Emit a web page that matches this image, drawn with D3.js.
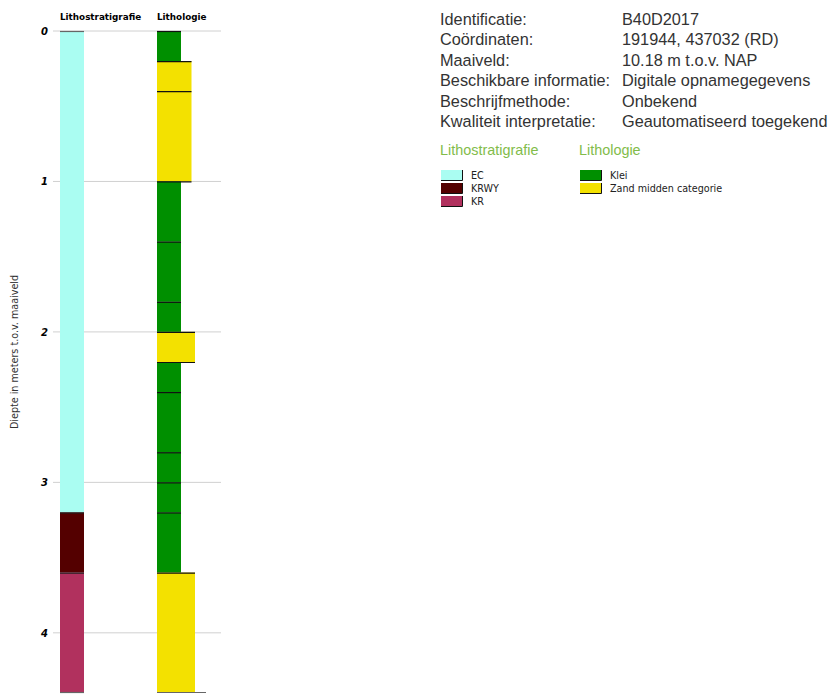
<!DOCTYPE html>
<html>
<head>
<meta charset="utf-8">
<script src="https://cdn.jsdelivr.net/npm/d3@7"></script>
<style>
  body { margin: 0; background: #fff; }
  svg { display: block; }
</style>
</head>
<body>
<script>
const width = 830;
const height = 695;

// lithostratigrafie: code, van, tot (m onder maaiveld)
const stratCodes = ['EC', 'KRWY', 'KR'];
const stratTop = [0, 3.2, 3.6];
const stratBottom = [3.2, 3.6, 4.4];
const stratColors = ['#aafdf2', '#540000', '#b1315e'];

// lithologie lagen
const lithoType = ['Klei', 'Zand', 'Zand', 'Klei', 'Klei', 'Klei', 'Zand', 'Klei', 'Klei', 'Klei', 'Klei', 'Klei', 'Zand'];
const lithoTop = [0, 0.2, 0.4, 1.0, 1.4, 1.8, 2.0, 2.2, 2.4, 2.8, 3.0, 3.2, 3.6];
const lithoBottom = [0.2, 0.4, 1.0, 1.4, 1.8, 2.0, 2.2, 2.4, 2.8, 3.0, 3.2, 3.6, 4.4];
const lithoGrain = [1, 2, 2, 1, 1, 1, 3, 1, 1, 1, 1, 1, 3]; // breedte-klasse

const depthTicks = [0, 1, 2, 3, 4];

const infoLabels = ['Identificatie:', 'Coördinaten:', 'Maaiveld:', 'Beschikbare informatie:', 'Beschrijfmethode:', 'Kwaliteit interpretatie:'];
const infoValues = ['B40D2017', '191944, 437032 (RD)', '10.18 m t.o.v. NAP', 'Digitale opnamegegevens', 'Onbekend', 'Geautomatiseerd toegekend'];

const lithoNames = ['Klei', 'Zand midden categorie'];
const lithoColors = { 'Klei': '#008f00', 'Zand': '#f3e100' };

const svg = d3.select('body').append('svg').attr('width', width).attr('height', height);

const y = d3.scaleLinear().domain([0, 4.4]).range([31, 693]);
const w = d3.scaleLinear().domain([1, 2, 3]).range([24, 34.5, 38]);

// gridlijnen
svg.append('g')
    .selectAll('line')
    .data(depthTicks)
    .enter()
    .append('line')
    .attr('x1', 53).attr('x2', 221)
    .attr('y1', d => y(d)).attr('y2', d => y(d))
    .attr('stroke', '#d0d0d0').attr('stroke-width', 1);

const yAxis = svg.append('g')
    .attr('transform', 'translate(50,0)')
    .call(d3.axisLeft(y).tickValues(depthTicks).tickSize(0).tickPadding(2).tickFormat(d3.format('d')));
yAxis.select('.domain').remove();
yAxis.selectAll('text')
    .attr('font-family', 'DejaVu Sans')
    .attr('font-size', 10)
    .attr('font-weight', 'bold')
    .attr('font-style', 'italic')
    .attr('fill', '#000');

svg.append('text')
    .attr('transform', 'translate(18,352) rotate(-90)')
    .attr('text-anchor', 'middle')
    .attr('font-family', 'DejaVu Sans')
    .attr('font-size', 9.6)
    .attr('fill', '#333')
    .text('Diepte in meters t.o.v. maaiveld');

// kolomtitels
svg.append('text').attr('x', 60).attr('y', 20)
    .attr('font-family', 'DejaVu Sans').attr('font-size', 8.8).attr('font-weight', 'bold')
    .text('Lithostratigrafie');
svg.append('text').attr('x', 157).attr('y', 20)
    .attr('font-family', 'DejaVu Sans').attr('font-size', 8.8).attr('font-weight', 'bold')
    .text('Lithologie');

// lithostratigrafie kolom
const strat = svg.append('g');
strat.selectAll('rect')
    .data(stratCodes)
    .enter()
    .append('rect')
    .attr('x', 60).attr('width', 24)
    .attr('y', (d, i) => y(stratTop[i]))
    .attr('height', (d, i) => y(stratBottom[i]) - y(stratTop[i]))
    .attr('fill', (d, i) => stratColors[i]);
strat.selectAll('line')
    .data(stratCodes)
    .enter()
    .append('line')
    .attr('x1', 60).attr('x2', 84)
    .attr('y1', (d, i) => y(stratTop[i]) + 0.5).attr('y2', (d, i) => y(stratTop[i]) + 0.5)
    .attr('stroke', (d, i) => i === 0 ? '#666' : '#222').attr('stroke-width', 1.2);
strat.append('line')
    .attr('x1', 60).attr('x2', 84)
    .attr('y1', y(4.4) - 0.5).attr('y2', y(4.4) - 0.5)
    .attr('stroke', '#666').attr('stroke-width', 1.2);

// lithologie kolom
const litho = svg.append('g');
litho.selectAll('rect')
    .data(lithoType)
    .enter()
    .append('rect')
    .attr('x', 157)
    .attr('width', (d, i) => w(lithoGrain[i]))
    .attr('y', (d, i) => y(lithoTop[i]))
    .attr('height', (d, i) => y(lithoBottom[i]) - y(lithoTop[i]))
    .attr('fill', d => lithoColors[d]);
litho.selectAll('line')
    .data(lithoType)
    .enter()
    .append('line')
    .attr('x1', 157)
    .attr('x2', (d, i) => 157 + Math.max(w(lithoGrain[i]), i > 0 ? w(lithoGrain[i - 1]) : 0))
    .attr('y1', (d, i) => y(lithoTop[i]) + 0.5)
    .attr('y2', (d, i) => y(lithoTop[i]) + 0.5)
    .attr('stroke', '#111').attr('stroke-width', 1.2);
litho.append('line')
    .attr('x1', 157).attr('x2', 206)
    .attr('y1', y(4.4) - 0.5).attr('y2', y(4.4) - 0.5)
    .attr('stroke', '#666').attr('stroke-width', 1.2);

// informatie blok
const info = svg.append('g').attr('font-family', 'Liberation Sans, Arial').attr('font-size', 16.3).attr('fill', '#333');
info.selectAll('text.lbl')
    .data(infoLabels)
    .enter()
    .append('text')
    .attr('class', 'lbl')
    .attr('x', 440)
    .attr('y', (d, i) => 25 + i * 20.4)
    .attr('fill', '#333')
    .text(d => d);
info.selectAll('text.val')
    .data(infoValues)
    .enter()
    .append('text')
    .attr('class', 'val')
    .attr('x', 622)
    .attr('y', (d, i) => 25 + i * 20.4)
    .attr('fill', '#333')
    .text(d => d);

// legenda
const legend = svg.append('g');
legend.append('text').attr('x', 440).attr('y', 155)
    .attr('font-family', 'Liberation Sans, Arial').attr('font-size', 14.4).attr('fill', '#82bc4a')
    .text('Lithostratigrafie');
legend.append('text').attr('x', 579).attr('y', 155)
    .attr('font-family', 'Liberation Sans, Arial').attr('font-size', 14.4).attr('fill', '#82bc4a')
    .text('Lithologie');

function legendItems(g, x, names, colors) {
    const item = g.selectAll(null)
        .data(names)
        .enter()
        .append('g')
        .attr('transform', (d, i) => `translate(${x},${170 + i * 13})`);
    item.append('rect')
        .attr('width', 21).attr('height', 10)
        .attr('fill', (d, i) => colors[i]);
    item.append('path')
        .attr('d', 'M0,10.5H21.5V0')
        .attr('fill', 'none').attr('stroke', '#111').attr('stroke-width', 1);
    item.append('text')
        .attr('x', 30).attr('y', 8.5)
        .attr('font-family', 'DejaVu Sans').attr('font-size', 9.6).attr('fill', '#222')
        .text(d => d);
}
legendItems(legend, 441, stratCodes, stratColors);
legendItems(legend, 580, lithoNames, [lithoColors['Klei'], lithoColors['Zand']]);
</script>
</body>
</html>
